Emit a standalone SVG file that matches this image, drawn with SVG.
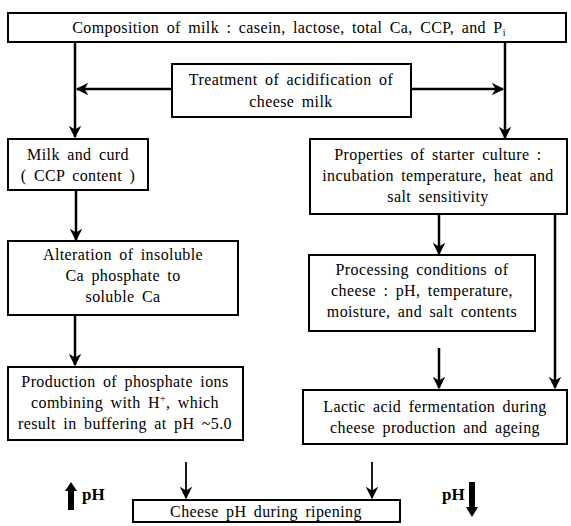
<svg xmlns="http://www.w3.org/2000/svg" width="571" height="526" viewBox="0 0 571 526">
<style>
.b{fill:#fff;stroke:#000;stroke-width:2}
.t{font-family:"Liberation Serif","Times New Roman",serif;font-size:16px;letter-spacing:0.4px;word-spacing:3px;text-anchor:middle;fill:#000}
.c{stroke:#000;stroke-width:2.5;fill:none}
.d{stroke:#000;stroke-width:1.8;fill:none}
.p{font-family:"Liberation Serif","Times New Roman",serif;font-size:17px;font-weight:bold;fill:#000}
</style>
<defs>
<marker id="a" viewBox="0 0 10 10" refX="9" refY="5" markerWidth="5" markerHeight="5" orient="auto" markerUnits="strokeWidth"><path d="M0,0 L10,5 L0,10 L3,5 z" fill="#000"/></marker>
<marker id="a2" viewBox="0 0 10 10" refX="9" refY="5" markerWidth="7" markerHeight="7" orient="auto" markerUnits="strokeWidth"><path d="M0,0 L10,5 L0,10 L3,5 z" fill="#000"/></marker>
</defs>
<rect width="571" height="526" fill="#fff"/>
<g id="connectors">
<path class="c" d="M75,42 V137" marker-end="url(#a)"/>
<path class="c" d="M505,42 V138" marker-end="url(#a)"/>
<path class="c" d="M172,89 H77" marker-end="url(#a)"/>
<path class="c" d="M411,89 H503" marker-end="url(#a)"/>
<path class="c" d="M76,190 V240" marker-end="url(#a)"/>
<path class="c" d="M75,315 V365" marker-end="url(#a)"/>
<path class="c" d="M439,214 V254" marker-end="url(#a)"/>
<path class="c" d="M555,214 V388" marker-end="url(#a)"/>
<path class="c" d="M439,348 V388" marker-end="url(#a)"/>
<path class="d" d="M186,462 V498" marker-end="url(#a2)"/>
<path class="d" d="M372,462 V498" marker-end="url(#a2)"/>
</g>
<g id="top"><rect class="b" x="8" y="13" width="558" height="29"/>
<text class="t" x="289" y="33">Composition of milk  :  casein, lactose, total Ca, CCP, and P<tspan font-size="10" dy="3">i</tspan></text></g>
<g id="treatment"><rect class="b" x="172" y="64" width="239" height="53"/>
<text class="t" x="291" y="85">Treatment of acidification of</text><text class="t" x="291" y="107">cheese milk</text></g>
<g id="milkcurd"><rect class="b" x="8" y="139" width="140" height="51"/>
<text class="t" x="78" y="160">Milk and curd</text><text class="t" x="78" y="181">( CCP content )</text></g>
<g id="alteration"><rect class="b" x="8" y="241" width="230" height="74"/>
<text class="t" x="123" y="260">Alteration of insoluble</text><text class="t" x="123" y="281">Ca phosphate to</text><text class="t" x="123" y="302">soluble Ca</text></g>
<g id="production"><rect class="b" x="8" y="367" width="235" height="73"/>
<text class="t" x="125" y="387">Production of phosphate ions</text><text class="t" x="125" y="408">combining with H<tspan font-size="10" dy="-6">+</tspan><tspan dy="6">, which</tspan></text><text class="t" x="125" y="429">result in buffering at pH ~5.0</text></g>
<g id="properties"><rect class="b" x="310" y="139" width="257" height="75"/>
<text class="t" x="438" y="160">Properties of starter culture :</text><text class="t" x="438" y="181">incubation temperature, heat and</text><text class="t" x="438" y="202">salt sensitivity</text></g>
<g id="processing"><rect class="b" x="309" y="255" width="226" height="76"/>
<text class="t" x="422" y="275">Processing conditions of</text><text class="t" x="422" y="296">cheese : pH, temperature,</text><text class="t" x="422" y="317">moisture, and salt contents</text></g>
<g id="lactic"><rect class="b" x="303" y="390" width="264" height="54"/>
<text class="t" x="435" y="412">Lactic acid fermentation during</text><text class="t" x="435" y="433">cheese production and ageing</text></g>
<g id="ripening"><rect class="b" x="133" y="500" width="267" height="22"/>
<text class="t" x="266" y="517">Cheese pH during ripening</text></g>
<g id="phup"><path d="M68,510 V491 H65 L71,482 L77,491 H74 V510 z" fill="#000"/>
<text class="p" x="82" y="500">pH</text></g>
<g id="phdown"><path d="M469,482 V507 H466 L472,517 L478,507 H475 V482 z" fill="#000"/>
<text class="p" x="442" y="500">pH</text></g>
</svg>
